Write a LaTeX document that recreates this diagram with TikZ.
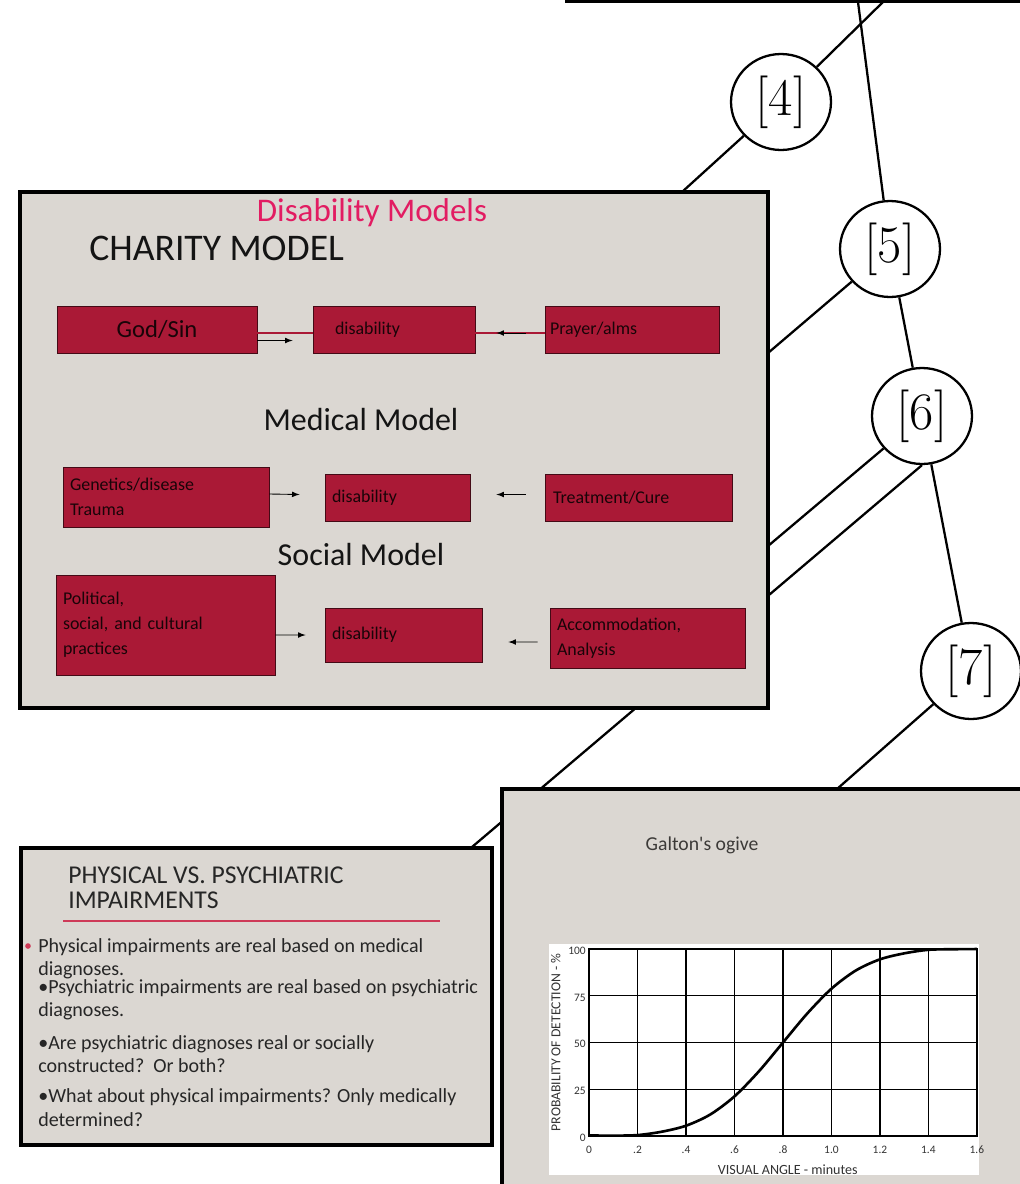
\documentclass[tikz,border=0pt]{standalone}
\usepackage{fontspec}
\newfontfamily\slidefont{Carlito}
\usetikzlibrary{shapes.geometric}

\definecolor{slidegray}{RGB}{219,215,210}
\definecolor{boxred}{RGB}{170,25,54}
\definecolor{titlepink}{RGB}{226,28,98}
\definecolor{rulepink}{RGB}{206,58,88}
\definecolor{galtongray}{RGB}{60,58,56}

\tikzset{
  slide/.style={draw=black,line width=1.8pt,fill=slidegray},
  refnum/.style={ellipse,draw=black,line width=1.3pt,fill=white,
    minimum width=2cm,minimum height=1.92cm,inner sep=0pt,
    font=\fontsize{30}{30}\selectfont},
  link/.style={line width=1.3pt},
  redbox/.style={draw=black!60!boxred,fill=boxred,line width=0.5pt,
    align=left,inner ysep=0pt,text=black!85!boxred,
    font=\slidefont\fontsize{10.2}{14.2}\selectfont},
  redlink/.style={draw=boxred,line width=1.5pt},
  arr/.style={->,line width=0.5pt},
  heading/.style={inner sep=0pt,text=black!92,font=\slidefont\fontsize{18.2}{20}\selectfont},
  body/.style={anchor=west,inner sep=0pt,align=left,
    font=\slidefont\fontsize{11.4}{13.3}\selectfont,text=black!85},
  tick/.style={inner sep=0pt,text height=1.4ex,text depth=0pt,text=black!80,
    font=\slidefont\fontsize{6.5}{7}\selectfont},
}

\begin{document}
\begin{tikzpicture}[x=0.02cm,y=-0.02cm,>=latex]
  \useasboundingbox (0,0) rectangle (1020,1184);
  \clip (0,0) rectangle (1020,1184);
  \draw[line width=1.8pt,fill=white] (567,-60) rectangle (1100,1.5);

  \node[refnum] (c4) at (781,102) {[4]};
  \node[refnum] (c5) at (890,249) {[5]};
  \node[refnum] (c6) at (922,416) {[6]};
  \node[refnum] (c7) at (971,671) {[7]};

  \coordinate (topA) at (883,2);
  \coordinate (topB) at (858,2);
  \coordinate (s1a) at (682,192);
  \coordinate (s1b) at (768,353);
  \coordinate (s1c) at (768,546);
  \coordinate (s2a) at (472,847);
  \coordinate (s3a) at (837,789);

  \draw[link] (topA) -- (c4) (c4) -- (s1a);
  \draw[link] (topB) -- (c5) (c5) -- (c6) (c6) -- (c7);
  \draw[link] (c5) -- (s1b);
  \draw[link] (c6) -- (s1c);
  \draw[link] (c6.south) -- (s2a);
  \draw[link] (c7) -- (s3a);

  % disability models
  \draw[slide] (20,192) rectangle (768,708);
  \node[heading,text=titlepink,font=\slidefont\fontsize{18.8}{20}\selectfont] (dm) at (372,213) {Disability Models};
  \node[heading,anchor=west,font=\slidefont\fontsize{21.4}{24}\selectfont] (charity) at (89,248) {CHARITY MODEL};
  \node[heading] (medical) at (361,420) {Medical Model};
  \node[heading] (social) at (361,555) {Social Model};

  \node[redbox,align=center,text width=3.8cm,inner xsep=0.1cm,minimum height=0.94cm,
    font=\slidefont\fontsize{14}{16}\selectfont] (god) at (157,329.5) {God/Sin};
  \node[redbox,text width=2.36cm,inner xsep=0.44cm,minimum height=0.94cm] (dis1) at (394,329.5) {disability};
  \node[redbox,text width=3.28cm,inner xsep=0.1cm,minimum height=0.94cm] (prayer) at (632,329.5) {Prayer/alms};
  \draw[redlink] ([yshift=-0.07cm]god.east) -- ([yshift=-0.07cm]dis1.west);
  \draw[redlink] ([yshift=-0.07cm]dis1.east) -- ([yshift=-0.07cm]prayer.west);
  \draw[arr] ([yshift=-0.22cm]god.east) -- ([xshift=-0.4cm,yshift=-0.22cm]dis1.west);
  \draw[arr] ([xshift=-0.38cm,yshift=-0.07cm]prayer.west) -- ([xshift=0.42cm,yshift=-0.07cm]dis1.east);

  \node[redbox,text width=3.84cm,inner xsep=0.14cm,minimum height=1.2cm] (gen) at (166,497) {Genetics/disease\\Trauma};
  \node[redbox,text width=2.62cm,inner xsep=0.14cm,minimum height=0.94cm] (dis2) at (397.5,497.5) {disability};
  \node[redbox,text width=3.42cm,inner xsep=0.16cm,minimum height=0.94cm] (treat) at (638.5,497.5) {Treatment/Cure};
  \draw[arr] ([yshift=0.06cm]gen.east) -- ([xshift=-0.5cm,yshift=0.06cm]dis2.west);
  \draw[arr] ([xshift=-0.38cm,yshift=0.06cm]treat.west) -- ([xshift=0.52cm,yshift=0.06cm]dis2.east);

  \node[redbox,text width=4.1cm,inner xsep=0.14cm,minimum height=2cm] (pol) at (165.5,625) {Political,\\social, and cultural\\practices};
  \node[redbox,text width=2.86cm,inner xsep=0.14cm,minimum height=1.08cm] (dis3) at (403.5,635) {disability};
  \node[redbox,text width=3.62cm,inner xsep=0.14cm,minimum height=1.2cm] (acc) at (647.5,638) {Accommodation,\\Analysis};
  \draw[arr] ([yshift=-0.2cm]pol.east) -- ([xshift=-0.38cm]dis3.west);
  \draw[arr] ([xshift=-0.24cm,yshift=-0.08cm]acc.west) -- ([xshift=0.52cm,yshift=-0.14cm]dis3.east);

  % physical vs psychiatric
  \draw[slide] (21,848) rectangle (492,1145);
  \node[body,font=\slidefont\fontsize{14.6}{14.2}\selectfont] (phys) at (68,887.5) {PHYSICAL VS. PSYCHIATRIC\\IMPAIRMENTS};
  \draw[rulepink,line width=1.2pt] (63,921) -- (440,921);
  \fill[rulepink] (28,946) circle[radius=1.6pt];
  \node[body] (pt1) at (38,958.5) {Physical impairments are real based on medical\\diagnoses.};
  \node[body] (pt2) at (38,1000) {•Psychiatric impairments are real based on psychiatric\\diagnoses.};
  \node[body] (pt3) at (38,1054) {•Are psychiatric diagnoses real or socially\\constructed?~~Or both?};
  \node[body] (pt4) at (38,1107.5) {•What about physical impairments? Only medically\\determined?};

  % galton
  \draw[slide] (502,789) rectangle (1100,1300);
  \node[inner sep=0pt,text=galtongray,font=\slidefont\fontsize{11.2}{13}\selectfont] (galton) at (702,845) {Galton's ogive};
  \fill[white] (549,944) rectangle (979,1175);
  \begin{scope}[shift={(589,1136)},x=4.85cm,y=0.0374cm]
    \foreach \i in {1,...,7}
      \draw[line width=0.8pt] ({\i*0.2},0) -- ({\i*0.2},100);
    \foreach \y in {25,50,75}
      \draw[line width=0.8pt] (0,\y) -- (1.6,\y);
    \draw[line width=1.1pt] (0,0) rectangle (1.6,100);
    \foreach \t [count=\i from 0] in {0,.2,.4,.6,.8,1.0,1.2,1.4,1.6}
      \node[tick] (xl\i) at ({\i*0.2},-6.5) {\t};
    \foreach \y in {0,25,50,75,100}
      \node[tick,anchor=east] (yl\y) at (-0.012,\y) {\y};
    \node[tick,rotate=90,font=\slidefont\fontsize{7.8}{8}\selectfont] (ylab) at (-0.14,50) {PROBABILITY OF DETECTION - \%};
    \node[tick,font=\slidefont\fontsize{8}{9}\selectfont] (xlab) at (0.82,-17.6) {VISUAL ANGLE - minutes};
    \draw[line width=1.5pt] plot[smooth] coordinates {(0,0.3) (0.1,0.2) (0.2,0.5) (0.3,2.3)
      (0.4,5.5) (0.5,11.5) (0.6,21.2) (0.7,34.5) (0.8,50) (0.9,65.5) (1.0,78.8)
      (1.1,88.5) (1.2,94.5) (1.3,97.7) (1.4,99.6) (1.5,99.9) (1.6,100)};
  \end{scope}
\end{tikzpicture}
\end{document}
